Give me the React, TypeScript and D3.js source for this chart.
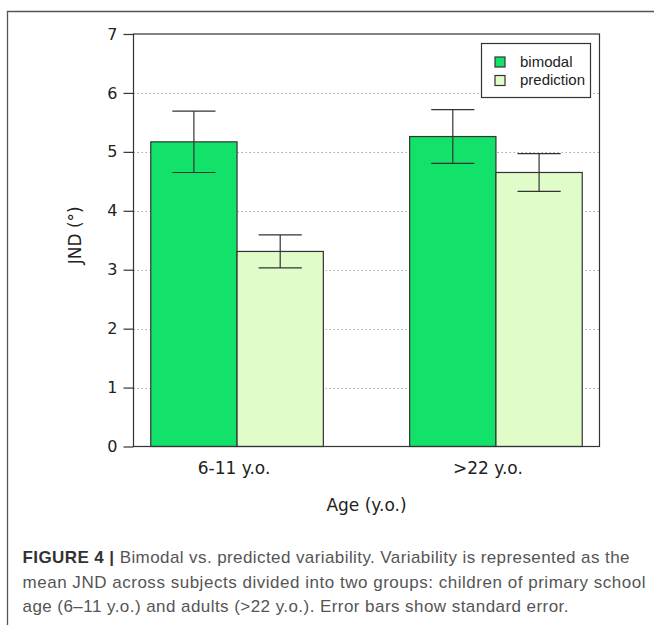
import { useEffect, useRef } from "react";
import * as d3 from "d3";

// values
const groups = ["6-11 y.o.", ">22 y.o."];
const series = ["bimodal", "prediction"];
const bimodal = [5.17, 5.26];
const bimodalSE = [0.52, 0.455];
const prediction = [3.31, 4.65];
const predictionSE = [0.28, 0.32];
const yTicks = [0, 1, 2, 3, 4, 5, 6, 7];
const colors = ["#12e26a", "#e0fcc9"];

const captionLines = [
  "Bimodal vs. predicted variability. Variability is represented as the",
  "mean JND across subjects divided into two groups: children of primary school",
  "age (6\u201311 y.o.) and adults (>22 y.o.). Error bars show standard error.",
];
const captionWidths = [607, 623, 546];

export default function App() {
  const ref = useRef<SVGSVGElement>(null);

  useEffect(() => {
    const svg = d3.select(ref.current);
    svg.selectAll("*").remove();

    const left = 133.5, right = 599.5, top = 34, bottom = 446.5;

    // frame around figure (clipped at right/bottom in the source)
    svg.append("path")
      .attr("d", "M7.5,700V11.5H700")
      .attr("fill", "none")
      .attr("stroke", "#555")
      .attr("stroke-width", 1.3);

    // R barplot style: bars of unit width, one unit gap between groups
    const x = d3.scaleLinear().domain([0.8, 6.2]).range([left, right]);
    const y = d3.scaleLinear().domain([0, 7]).range([bottom, top]);

    const bars = groups.flatMap((g, gi) => [
      { g, gi, si: 0, v: bimodal[gi], se: bimodalSE[gi] },
      { g, gi, si: 1, v: prediction[gi], se: predictionSE[gi] },
    ]).map(d => ({ ...d, x0: 1 + d.gi * 3 + d.si }));

    // dotted grid
    svg.append("g")
      .selectAll("line")
      .data(yTicks.filter(t => t > 0 && t < 7))
      .join("line")
      .attr("x1", left)
      .attr("x2", right)
      .attr("y1", d => Math.round(y(d)) + 0.5)
      .attr("y2", d => Math.round(y(d)) + 0.5)
      .attr("stroke", "#aaa")
      .attr("stroke-dasharray", "1.5,2.5");

    // bars
    svg.append("g")
      .selectAll("rect")
      .data(bars)
      .join("rect")
      .attr("x", d => x(d.x0))
      .attr("width", d => x(d.x0 + 1) - x(d.x0))
      .attr("y", d => y(d.v))
      .attr("height", d => y(0) - y(d.v))
      .attr("fill", d => colors[d.si])
      .attr("stroke", "#333")
      .attr("stroke-width", 1.2);

    // error bars
    const eb = svg.append("g").attr("stroke", "#333").attr("stroke-width", 1.2);
    bars.forEach(d => {
      const cx = x(d.x0 + 0.5);
      const hw = x(1.25) - x(1);
      eb.append("line").attr("x1", cx).attr("x2", cx)
        .attr("y1", y(d.v - d.se)).attr("y2", y(d.v + d.se));
      [d.v - d.se, d.v + d.se].forEach(v => {
        eb.append("line").attr("x1", cx - hw).attr("x2", cx + hw)
          .attr("y1", y(v)).attr("y2", y(v));
      });
    });

    // plot box
    svg.append("rect")
      .attr("x", left).attr("y", top)
      .attr("width", right - left).attr("height", bottom - top)
      .attr("fill", "none")
      .attr("stroke", "#333")
      .attr("stroke-width", 1.2);

    // y axis
    const yAxis = svg.append("g")
      .attr("transform", `translate(${left},0)`)
      .call(d3.axisLeft(y).tickValues(yTicks).tickFormat(d3.format("d"))
        .tickSize(10).tickPadding(6).tickSizeOuter(0));
    yAxis.select(".domain").remove();
    yAxis.selectAll("line").attr("stroke", "#333").attr("stroke-width", 1.2);
    yAxis.selectAll("text")
      .attr("font-family", "DejaVu Sans")
      .attr("font-size", 16)
      .attr("fill", "#222");

    // x labels
    svg.append("g")
      .selectAll("text")
      .data(groups)
      .join("text")
      .attr("x", (d, i) => x(2 + i * 3) - 3 - i * 5)
      .attr("y", 474)
      .attr("text-anchor", "middle")
      .attr("font-family", "DejaVu Sans")
      .attr("font-size", 17)
      .attr("fill", "#222")
      .text(d => d);

    svg.append("text")
      .attr("x", (left + right) / 2)
      .attr("y", 511)
      .attr("text-anchor", "middle")
      .attr("font-family", "DejaVu Sans")
      .attr("font-size", 17)
      .attr("fill", "#222")
      .text("Age (y.o.)");

    svg.append("text")
      .attr("transform", `translate(81,${(top + bottom) / 2 - 5}) rotate(-90)`)
      .attr("text-anchor", "middle")
      .attr("font-family", "DejaVu Sans")
      .attr("font-size", 17)
      .attr("fill", "#222")
      .text("JND (\u00b0)");

    // legend
    const lg = svg.append("g");
    lg.append("rect")
      .attr("x", 481.5).attr("y", 43.5)
      .attr("width", 109).attr("height", 54)
      .attr("fill", "#fff").attr("stroke", "#333").attr("stroke-width", 1.2);
    series.forEach((s, i) => {
      lg.append("rect")
        .attr("x", 495).attr("y", 57 + i * 18.5)
        .attr("width", 10).attr("height", 10)
        .attr("fill", colors[i]).attr("stroke", "#333").attr("stroke-width", 1.2);
      lg.append("text")
        .attr("x", 520).attr("y", 66.5 + i * 18.5)
        .attr("font-family", "Liberation Sans")
        .attr("font-size", 15)
        .attr("fill", "#222")
        .text(s);
    });

    // caption
    captionLines.forEach((line, i) => {
      const t = svg.append("text")
        .attr("x", 22.5)
        .attr("y", 563 + i * 24.7)
        .attr("font-family", "Liberation Sans")
        .attr("font-size", 17)
        .attr("fill", "#555")
        .attr("textLength", captionWidths[i])
        .attr("lengthAdjust", "spacing");
      if (i === 0) {
        t.append("tspan").attr("font-weight", "bold").attr("fill", "#333").text("FIGURE 4 | ");
      }
      t.append("tspan").text(line);
    });
  }, []);

  return (
    <svg
      ref={ref}
      width={654}
      height={625}
      style={{ position: "absolute", left: 0, top: 0, background: "#fff" }}
    />
  );
}
